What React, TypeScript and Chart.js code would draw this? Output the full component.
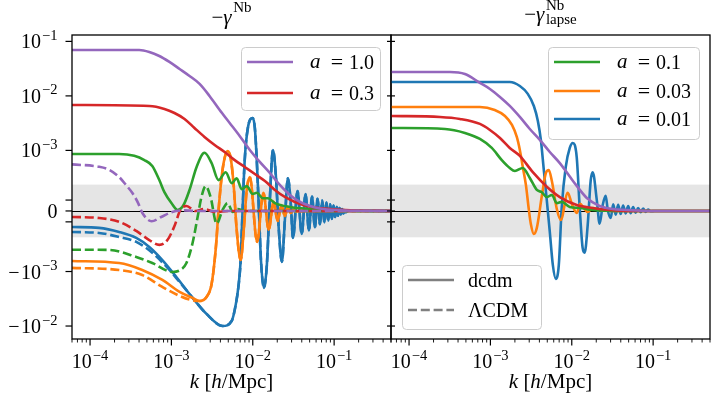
import React, { useEffect, useRef } from 'react';
import { Chart, registerables } from 'chart.js';

Chart.register(...registerables);

type Pt = [number, number];

// ---------------- axes ----------------
const K_LIMITS: [number, number] = [6e-5, 0.5];
const Y_LIMITS: [number, number] = [-0.0173, 0.131];
const LINTHRESH = 1e-3;
const X_TICK_VALUES = [1e-4, 1e-3, 1e-2, 1e-1];
const X_TICK_LABELS = ['10^{-4}', '10^{-3}', '10^{-2}', '10^{-1}'];
const Y_TICK_VALUES = [0.1, 0.01, 0.001, 0, -0.001, -0.01];
const Y_TICK_LABELS = ['10^{-1}', '10^{-2}', '10^{-3}', '0', '-10^{-3}', '-10^{-2}'];
const Y_EXTRA_TICKS = [1.8e-4, -1.8e-4];
const BAND = 4.35e-4;

// ---------------- legend texts ----------------
const LEFT_LEGEND_A = ['1.0', '0.3'];
const RIGHT_LEGEND_A = ['0.1', '0.03', '0.01'];
const STYLE_LEGEND = ['dcdm', 'ΛCDM'];

const COLORS = {
  purple: '#9467bd',
  red: '#d62728',
  green: '#2ca02c',
  orange: '#ff7f0e',
  blue: '#1f77b4',
  gray: '#808080',
};

// ---------------- left panel: -gamma^Nb, dcdm (solid) ----------------
const purpleDcdm: Pt[] = [
  [6e-5, 6.97e-2], [4.03e-4, 6.97e-2], [5.35e-4, 6.4e-2], [7.1e-4, 5.4e-2], [9.45e-4, 4.2e-2],
  [1.26e-3, 3.12e-2], [1.67e-3, 2.32e-2], [2.22e-3, 1.66e-2], [2.94e-3, 9.98e-3], [3.92e-3, 5.52e-3],
  [5.2e-3, 3.19e-3], [6.9e-3, 1.84e-3], [9.2e-3, 1.02e-3], [1.22e-2, 8.1e-4], [1.62e-2, 6.27e-4],
  [2.15e-2, 4.29e-4], [2.86e-2, 2.64e-4], [3.8e-2, 1.49e-4], [5.06e-2, 8.3e-5], [6.7e-2, 4.1e-5],
  [0.119, 1.2e-5], [0.21, 3e-6], [0.5, 0],
];
const redDcdm: Pt[] = [
  [6e-5, 6.82e-3], [5.35e-4, 6.54e-3], [8.2e-4, 5.77e-3], [1.09e-3, 4.86e-3], [1.45e-3, 3.78e-3],
  [1.92e-3, 2.58e-3], [2.55e-3, 1.77e-3], [3.4e-3, 1.26e-3], [4.51e-3, 9.74e-4], [6.0e-3, 8.4e-4],
  [7.96e-3, 7.26e-4], [1.06e-2, 6.1e-4], [1.41e-2, 4.95e-4], [1.87e-2, 3.47e-4], [2.48e-2, 2.31e-4],
  [3.3e-2, 1.49e-4], [4.38e-2, 9.1e-5], [5.82e-2, 5.8e-5], [8.9e-2, 3.3e-5], [0.158, 1.2e-5], [0.5, 0],
];
const greenDcdm: Pt[] = [
  [6e-5, 9.4e-4], [2.28e-4, 9.4e-4], [3.49e-4, 9.1e-4], [4.65e-4, 8.4e-4], [5.82e-4, 7.43e-4],
  [7.1e-4, 5.1e-4], [8.2e-4, 3.1e-4], [1.0e-3, 1.3e-4], [1.19e-3, 1.7e-5], [1.41e-3, 9.9e-5],
  [1.67e-3, 3.47e-4], [2.04e-3, 7.26e-4], [2.55e-3, 9.6e-4], [3.12e-3, 7.9e-4], [3.8e-3, 5.1e-4],
  [4.65e-3, 6.4e-4], [5.5e-3, 4.6e-4], [6.34e-3, 5.4e-4], [7.3e-3, 3.6e-4], [8.43e-3, 4.1e-4],
  [1.0e-2, 2.8e-4], [1.12e-2, 3.0e-4], [1.33e-2, 2.1e-4], [1.54e-2, 2.1e-4], [1.87e-2, 1.3e-4],
  [2.86e-2, 6.6e-5], [5.06e-2, 3.3e-5], [0.119, 8e-6], [0.5, 0],
];
const orangeDcdm: Pt[] = [
  [6e-5, -8.26e-4], [2.28e-4, -8.6e-4], [4.38e-4, -9.74e-4], [7.74e-4, -1.43e-3], [1.26e-3, -2.37e-3],
  [1.82e-3, -3.06e-3], [2.22e-3, -3.47e-3], [2.7e-3, -2.93e-3], [3.12e-3, -1.69e-3], [3.5e-3, -6.4e-4],
  [3.8e-3, 1.7e-5], [4.14e-3, 5.6e-4], [4.51e-3, 8.75e-4], [4.91e-3, 9.9e-4], [5.35e-3, 8.75e-4],
  [5.82e-3, 4.3e-4], [6.34e-3, -3.1e-4], [7.1e-3, -8.1e-4], [7.75e-3, -3.1e-4], [8.43e-3, 3.47e-4],
  [9.2e-3, 5.6e-4], [1.13e-2, -5.1e-4], [1.35e-2, 3.0e-4], [1.57e-2, -3.1e-4], [1.8e-2, 1.5e-4],
  [2.02e-2, -1.65e-4], [2.25e-2, 9.9e-5], [2.48e-2, -8.3e-5], [2.7e-2, 6.6e-5], [2.93e-2, -3.3e-5],
  [3.15e-2, 2e-5], [3.4e-2, -1e-5], [4e-2, 0], [0.5, 0],
];
const blueDcdm: Pt[] = [
  [6e-5, -2.64e-4], [1.29e-4, -2.8e-4], [2.28e-4, -3.47e-4], [3.7e-4, -4.46e-4], [5.35e-4, -5.94e-4],
  [7.74e-4, -8.1e-4], [1.15e-3, -1.26e-3], [1.67e-3, -2.58e-3], [2.7e-3, -6.0e-3], [4.26e-3, -9.98e-3],
  [5.5e-3, -8.1e-3], [6.17e-3, -4.09e-3], [6.7e-3, -1.76e-3], [7.1e-3, -8.1e-4], [7.5e-3, 1.7e-5],
  [7.96e-3, 8.4e-4], [8.7e-3, 2.58e-3], [1.0e-2, 3.94e-3], [1.06e-2, 2.58e-3], [1.12e-2, 8.4e-4],
  [1.19e-2, 1.7e-5], [1.26e-2, -8.1e-4], [1.37e-2, -2.0e-3], [1.49e-2, -8.9e-4], [1.62e-2, 1.8e-4],
  [1.77e-2, 1.02e-3], [1.92e-2, 5.9e-4], [2.09e-2, -3.1e-4], [2.28e-2, -8.4e-4], [2.48e-2, -1.5e-4],
  [2.7e-2, 5.4e-4], [2.94e-2, 1e-4], [3.12e-2, -4.46e-4], [3.55e-2, 3.3e-4], [4.0e-2, -3.8e-4],
  [4.45e-2, 2.8e-4], [4.9e-2, -3.2e-4], [5.35e-2, 2.4e-4], [5.8e-2, -2.7e-4], [6.25e-2, 2.0e-4],
  [6.7e-2, -2.2e-4], [7.15e-2, 1.7e-4], [7.6e-2, -1.9e-4], [8.05e-2, 1.4e-4], [8.5e-2, -1.6e-4],
  [8.95e-2, 1.1e-4], [9.4e-2, -1.3e-4], [9.85e-2, 9e-5], [0.103, -1.0e-4], [0.1075, 7e-5],
  [0.112, -8e-5], [0.1165, 5e-5], [0.121, -6e-5], [0.1255, 3e-5], [0.13, -4e-5], [0.1345, 1.5e-5],
  [0.139, -2e-5], [0.145, 0], [0.5, 0],
];

// ---------------- left panel: LambdaCDM (dashed) ----------------
const purpleLcdm: Pt[] = [
  [6e-5, 7.7e-4], [1.29e-4, 7.3e-4], [1.72e-4, 6.8e-4], [2.28e-4, 5.6e-4], [2.8e-4, 4.2e-4],
  [3.3e-4, 3.0e-4], [3.9e-4, 1.3e-4], [4.38e-4, -3e-5], [5.7e-4, -1.7e-4], [7.5e-4, -1.0e-4],
  [1.0e-3, -2e-5], [1.4e-3, 1e-5], [2e-3, 0], [0.5, 0],
];
const redLcdm: Pt[] = [
  [6e-5, -9.9e-5], [1.29e-4, -1.16e-4], [2.28e-4, -1.8e-4], [3.7e-4, -3.3e-4], [5.35e-4, -4.8e-4],
  [7.1e-4, -5.6e-4], [8.93e-4, -4.8e-4], [1.09e-3, -2.5e-4], [1.29e-3, 1.7e-5], [1.53e-3, 8.3e-5],
  [1.98e-3, 0], [2.55e-3, 3.3e-5], [3.4e-3, -1.7e-5], [5.2e-3, 0], [0.5, 0],
];
const greenLcdm: Pt[] = [
  [6e-5, -6.4e-4], [1.72e-4, -6.44e-4], [3.7e-4, -7.6e-4], [5.82e-4, -8.6e-4], [1.03e-3, -1.02e-3],
  [1.29e-3, -9.74e-4], [1.53e-3, -8.6e-4], [1.82e-3, -5.3e-4], [2.1e-3, -9.9e-5], [2.34e-3, 2.3e-4],
  [2.63e-3, 4.1e-4], [3.03e-3, 2.3e-4], [3.6e-3, -2.1e-4], [4.26e-3, 1.7e-5], [4.91e-3, 1.3e-4],
  [5.66e-3, -1.7e-5], [6.53e-3, 3.3e-5], [7.96e-3, 0], [0.5, 0],
];
const orangeLcdmHead: Pt[] = [
  [6e-5, -9.4e-4], [2.28e-4, -9.74e-4], [4.38e-4, -1.16e-3], [7.74e-4, -1.92e-3], [1.26e-3, -2.8e-3],
  [1.7e-3, -3.3e-3],
];
const blueLcdmHead: Pt[] = [
  [6e-5, -3.47e-4], [1.29e-4, -3.63e-4], [2.28e-4, -4.3e-4], [3.7e-4, -5.1e-4], [5.82e-4, -6.9e-4],
  [9.45e-4, -9.74e-4], [1.26e-3, -1.56e-3],
];
// after these k the LambdaCDM curve lies on top of the dcdm one
const ORANGE_MERGE_K = 2.1e-3;
const BLUE_MERGE_K = 1.6e-3;

// ---------------- right panel: -gamma^Nb_lapse, dcdm ----------------
const purpleLapse: Pt[] = [
  [6e-5, 2.75e-2], [3.18e-4, 2.75e-2], [4.86e-4, 2.52e-2], [7.43e-4, 1.73e-2], [9.86e-4, 1.34e-2],
  [1.31e-3, 9.55e-3], [1.73e-3, 6.54e-3], [2.3e-3, 4.11e-3], [3.05e-3, 2.47e-3], [4.05e-3, 1.56e-3],
  [5.37e-3, 9.74e-4], [7.13e-3, 7.9e-4], [1.03e-2, 5.0e-4], [1.53e-2, 2.15e-4], [2.2e-2, 8.3e-5],
  [3.18e-2, 3.3e-5], [4.73e-2, 1.7e-5], [9.06e-2, 0], [0.5, 0],
];
const redLapse: Pt[] = [
  [6e-5, 4.28e-3], [2.4e-4, 4.11e-3], [4.22e-4, 3.78e-3], [7.43e-4, 3.06e-3], [9.86e-4, 2.37e-3],
  [1.31e-3, 1.69e-3], [1.73e-3, 1.11e-3], [2.3e-3, 9.1e-4], [3.32e-3, 6.4e-4], [4.93e-3, 4.0e-4],
  [7.13e-3, 2.3e-4], [1.15e-2, 9.9e-5], [1.81e-2, 5e-5], [2.92e-2, 1.7e-5], [5.15e-2, 0], [0.5, 0],
];
const greenLapse: Pt[] = [
  [6e-5, 2.58e-3], [2.77e-4, 2.47e-3], [4.86e-4, 2.09e-3], [7.43e-4, 1.62e-3], [1.04e-3, 1.11e-3],
  [1.38e-3, 8.4e-4], [1.73e-3, 7.1e-4], [2.0e-3, 6.6e-4], [2.5e-3, 7.1e-4], [3.05e-3, 5.45e-4],
  [3.72e-3, 3.47e-4], [4.29e-3, 3.1e-4], [4.93e-3, 2.3e-4], [5.69e-3, 2.64e-4], [6.55e-3, 1.3e-4],
  [7.53e-3, 1.5e-4], [9.45e-3, 6.6e-5], [1.25e-2, 5e-5], [1.81e-2, 1.7e-5], [3.88e-2, 0], [0.5, 0],
];
const orangeLapse: Pt[] = [
  [6e-5, 6.27e-3], [7.43e-4, 6.27e-3], [1.13e-3, 5.52e-3], [1.51e-3, 4.28e-3], [1.84e-3, 2.93e-3],
  [2.11e-3, 1.77e-3], [2.3e-3, 1.02e-3], [2.5e-3, 7.26e-4], [2.73e-3, 4.3e-4], [2.97e-3, 1.7e-5],
  [3.14e-3, -2.15e-4], [3.42e-3, -3.8e-4], [3.72e-3, -2.8e-4], [4.29e-3, 2.5e-4], [4.8e-3, 6.27e-4],
  [5.22e-3, 6.77e-4], [5.69e-3, 4.95e-4], [6.55e-3, 3.3e-5], [7.33e-3, -1.5e-4], [8.93e-3, 3.0e-4],
  [1.0e-2, 1.2e-4], [1.15e-2, -3.3e-5], [1.27e-2, 1.2e-4], [1.4e-2, 5e-5], [1.57e-2, -1.7e-5],
  [1.81e-2, 5e-5], [2.2e-2, 1.7e-5], [3.88e-2, 0], [0.5, 0],
];
const blueLapse: Pt[] = [
  [6e-5, 1.8e-2], [1.73e-3, 1.8e-2], [2.3e-3, 1.52e-2], [2.88e-3, 1.09e-2], [3.42e-3, 6.54e-3],
  [3.83e-3, 3.47e-3], [4.17e-3, 1.56e-3], [4.53e-3, 6.8e-4], [4.93e-3, 1.8e-4], [5.37e-3, -3.47e-4],
  [5.85e-3, -8.9e-4], [6.37e-3, -1.37e-3], [6.93e-3, -8.9e-4], [7.53e-3, 6.6e-5], [8.43e-3, 7.26e-4],
  [9.45e-3, 1.11e-3], [1.03e-2, 1.37e-3], [1.15e-2, 8.9e-4], [1.25e-2, 6.6e-5], [1.36e-2, -6.1e-4],
  [1.44e-2, -6.9e-4], [1.57e-2, -2.3e-4], [1.71e-2, 5.1e-4], [1.81e-2, 6.4e-4], [2.03e-2, 1.8e-4],
  [2.2e-2, -2.1e-4], [2.4e-2, 9.9e-5], [2.61e-2, 2.5e-4], [2.77e-2, 1.7e-5], [3.01e-2, -1.16e-4],
  [3.23e-2, 1.1e-4], [3.47e-2, -6e-5], [3.72e-2, 1.0e-4], [3.99e-2, -5e-5], [4.28e-2, 9e-5],
  [4.6e-2, -4e-5], [4.93e-2, 8e-5], [5.29e-2, -3.5e-5], [5.68e-2, 6.5e-5], [6.1e-2, -3e-5],
  [6.54e-2, 5e-5], [7.02e-2, -2e-5], [7.53e-2, 4e-5], [8.08e-2, -1.5e-5], [8.67e-2, 2.5e-5],
  [9.31e-2, -5e-6], [0.104, 0], [0.5, 0],
];

// ---------------- helpers ----------------
const LINSCALE_ADJ = 1 / (1 - 1 / 10);
function symlog(v: number): number {
  const a = Math.abs(v);
  if (a <= LINTHRESH) return (v / LINTHRESH) * LINSCALE_ADJ;
  return Math.sign(v) * (LINSCALE_ADJ + Math.log10(a / LINTHRESH));
}

const FONT_FAMILY = '"Liberation Serif", "DejaVu Serif", serif';
function font(size: number, italic = false) {
  return `${italic ? 'italic ' : ''}${size}px ${FONT_FAMILY}`;
}

type Run = { t: string; size: number; italic?: boolean; dy?: number; dx?: number };

function runsWidth(ctx: CanvasRenderingContext2D, runs: Run[]) {
  let w = 0;
  for (const r of runs) {
    ctx.font = font(r.size, r.italic);
    w += ctx.measureText(r.t).width + (r.dx || 0);
  }
  return w;
}
function drawRuns(ctx: CanvasRenderingContext2D, runs: Run[], x: number, y: number, align: 'left' | 'center' | 'right') {
  const w = runsWidth(ctx, runs);
  let cx = align === 'left' ? x : align === 'center' ? x - w / 2 : x - w;
  ctx.textAlign = 'left';
  ctx.textBaseline = 'alphabetic';
  ctx.fillStyle = '#000';
  for (const r of runs) {
    ctx.font = font(r.size, r.italic);
    cx += r.dx || 0;
    ctx.fillText(r.t, cx, y + (r.dy || 0));
    cx += ctx.measureText(r.t).width;
  }
}
const TICK_FS = 20;
const TICK_SUP_FS = 14.5;
function powRuns(label: string): Run[] {
  if (label === '0') return [{ t: '0', size: TICK_FS }];
  const m = /^(-?)10\^\{(-?\d+)\}$/.exec(label);
  if (!m) return [{ t: label, size: TICK_FS }];
  const runs: Run[] = [];
  if (m[1]) runs.push({ t: '−', size: TICK_FS });
  runs.push({ t: '10', size: TICK_FS, dx: m[1] ? 1.5 : 0 });
  runs.push({ t: m[2].replace('-', '−'), size: TICK_SUP_FS, dy: -8.5, dx: 1 });
  return runs;
}
function seg(ctx: CanvasRenderingContext2D, x1: number, y1: number, x2: number, y2: number) {
  ctx.beginPath();
  ctx.moveTo(x1, y1);
  ctx.lineTo(x2, y2);
  ctx.stroke();
}
function roundRectPath(ctx: CanvasRenderingContext2D, x: number, y: number, w: number, h: number, r: number) {
  ctx.beginPath();
  ctx.moveTo(x + r, y);
  ctx.lineTo(x + w - r, y);
  ctx.arcTo(x + w, y, x + w, y + r, r);
  ctx.lineTo(x + w, y + h - r);
  ctx.arcTo(x + w, y + h, x + w - r, y + h, r);
  ctx.lineTo(x + r, y + h);
  ctx.arcTo(x, y + h, x, y + h - r, r);
  ctx.lineTo(x, y + r);
  ctx.arcTo(x, y, x + r, y, r);
  ctx.closePath();
}

const LINE_W = 2.6;
const DASH = [9, 3.8];

function ds(pts: Pt[], color: string, dashed: boolean) {
  return {
    data: pts.map(([k, v]) => ({ x: k, y: symlog(v) })),
    borderColor: color,
    backgroundColor: color,
    borderWidth: LINE_W,
    borderDash: dashed ? DASH : [],
    borderCapStyle: 'butt',
    borderJoinStyle: 'round',
    pointRadius: 0,
    fill: false,
    cubicInterpolationMode: 'monotone',
  };
}

type LegendRow = { color: string; dashed: boolean; math?: string; text?: string; dy: number };
type LegendBox = { x: number; y: number; w: number; h: number; rows: LegendRow[] };

type Panel = {
  datasets: () => any[];
  padding: { left: number; right: number; top: number; bottom: number };
  yLabels: boolean;
  leftTicksBoth: boolean;
  title: 'plain' | 'lapse';
  legends: LegendBox[];
};

const LEG_FS = 20;

function drawLegend(ctx: CanvasRenderingContext2D, left: number, top: number, L: LegendBox) {
  const x0 = left + L.x;
  const y0 = top + L.y;
  ctx.save();
  roundRectPath(ctx, x0 + 0.5, y0 + 0.5, L.w, L.h, 4);
  ctx.fillStyle = 'rgba(255,255,255,0.8)';
  ctx.fill();
  ctx.strokeStyle = '#cccccc';
  ctx.lineWidth = 1;
  ctx.stroke();
  for (const row of L.rows) {
    const yy = y0 + row.dy;
    ctx.strokeStyle = row.color;
    ctx.lineWidth = LINE_W;
    ctx.lineCap = 'butt';
    ctx.setLineDash(row.dashed ? DASH : []);
    seg(ctx, x0 + 6, yy, x0 + 52, yy);
    ctx.setLineDash([]);
    ctx.fillStyle = '#000';
    if (row.math !== undefined) {
      drawRuns(ctx, [{ t: 'a', size: LEG_FS + 1, italic: true }], x0 + 69, yy + 6, 'left');
      drawRuns(ctx, [{ t: '=', size: LEG_FS + 2 }], x0 + 96, yy + 6.5, 'center');
      drawRuns(ctx, [{ t: row.math, size: LEG_FS }], x0 + 108, yy + 6.5, 'left');
    } else if (row.text !== undefined) {
      drawRuns(ctx, [{ t: row.text, size: LEG_FS }], x0 + 66, yy + 6.5, 'left');
    }
  }
  ctx.restore();
}

function decorPlugin(panel: Panel) {
  return {
    id: 'decor',
    beforeDatasetsDraw(chart: any) {
      const { ctx, chartArea: a } = chart;
      const ys = chart.scales.y;
      ctx.save();
      const yb1 = ys.getPixelForValue(symlog(BAND));
      const yb2 = ys.getPixelForValue(symlog(-BAND));
      ctx.fillStyle = 'rgba(0,0,0,0.1)';
      ctx.fillRect(a.left, yb1, a.right - a.left, yb2 - yb1);
      const y0 = Math.round(ys.getPixelForValue(symlog(0))) + 0.5;
      ctx.strokeStyle = '#000';
      ctx.lineWidth = 1.2;
      seg(ctx, a.left, y0, a.right, y0);
      ctx.restore();
    },
    afterDraw(chart: any) {
      const { ctx, chartArea: a } = chart;
      const xs = chart.scales.x;
      const ys = chart.scales.y;
      ctx.save();
      // frame
      ctx.strokeStyle = '#000';
      ctx.lineWidth = 1.3;
      ctx.strokeRect(a.left, a.top, a.right - a.left, a.bottom - a.top);

      // x ticks
      for (let n = -5; n <= 0; n++) {
        for (let m = 1; m <= 9; m++) {
          const k = m * Math.pow(10, n);
          if (k < K_LIMITS[0] * 0.999 || k > K_LIMITS[1] * 1.001) continue;
          const px = xs.getPixelForValue(k);
          ctx.lineWidth = m === 1 ? 1.2 : 0.9;
          seg(ctx, px, a.bottom, px, a.bottom + (m === 1 ? 6.5 : 3.5));
        }
      }
      X_TICK_VALUES.forEach((k, i) => {
        drawRuns(ctx, powRuns(X_TICK_LABELS[i]), xs.getPixelForValue(k), a.bottom + 29, 'center');
      });

      // y ticks
      const yTicks = [...Y_TICK_VALUES, ...Y_EXTRA_TICKS];
      ctx.lineWidth = 1.2;
      for (const v of yTicks) {
        const py = ys.getPixelForValue(symlog(v));
        if (panel.leftTicksBoth) seg(ctx, a.left - 4, py, a.left + 4, py);
        else seg(ctx, a.left - 6.5, py, a.left, py);
      }
      if (panel.yLabels) {
        Y_TICK_VALUES.forEach((v, i) => {
          const py = ys.getPixelForValue(symlog(v));
          drawRuns(ctx, powRuns(Y_TICK_LABELS[i]), a.left - 14.5, py + 7, 'right');
        });
      }

      // x label
      const cx = (a.left + a.right) / 2;
      drawRuns(
        ctx,
        [
          { t: 'k', size: 21, italic: true },
          { t: ' [', size: 21 },
          { t: 'h', size: 21, italic: true },
          { t: '/Mpc]', size: 21 },
        ],
        cx,
        a.bottom + 49,
        'center'
      );

      // title
      if (panel.title === 'plain') {
        drawRuns(
          ctx,
          [
            { t: '−', size: 21 },
            { t: 'γ', size: 21, italic: true },
            { t: 'Nb', size: 15, dy: -12, dx: 1.5 },
          ],
          cx,
          24,
          'center'
        );
      } else {
        ctx.font = font(21);
        const wm = ctx.measureText('−').width;
        ctx.font = font(21, true);
        const wg = ctx.measureText('γ').width;
        ctx.font = font(15);
        const wnb = ctx.measureText('Nb').width;
        const wl = ctx.measureText('lapse').width;
        const total = wm + wg + 1.5 + Math.max(wnb, wl);
        let x = cx - total / 2;
        drawRuns(ctx, [{ t: '−', size: 21 }], x, 21, 'left');
        x += wm;
        drawRuns(ctx, [{ t: 'γ', size: 21, italic: true }], x, 21, 'left');
        x += wg + 1.5;
        drawRuns(ctx, [{ t: 'Nb', size: 15 }], x, 10, 'left');
        drawRuns(ctx, [{ t: 'lapse', size: 15 }], x, 24, 'left');
      }

      for (const L of panel.legends) drawLegend(ctx, a.left, a.top, L);
      ctx.restore();
    },
  };
}

function buildChart(canvas: HTMLCanvasElement, panel: Panel) {
  return new Chart(canvas, {
    type: 'line',
    data: { datasets: panel.datasets() },
    options: {
      animation: false,
      responsive: false,
      devicePixelRatio: 1,
      parsing: false,
      events: [],
      layout: { padding: panel.padding },
      scales: {
        x: { type: 'logarithmic', min: K_LIMITS[0], max: K_LIMITS[1], display: false },
        y: { type: 'linear', min: symlog(Y_LIMITS[0]), max: symlog(Y_LIMITS[1]), display: false },
      },
      plugins: {
        legend: { display: false },
        title: { display: false },
        tooltip: { enabled: false },
      },
    } as any,
    plugins: [decorPlugin(panel) as any],
  } as any);
}

const LEFT_PANEL: Panel = {
  datasets: () => [
    ds(purpleLcdm, COLORS.purple, true),
    ds(purpleDcdm, COLORS.purple, false),
    ds(redLcdm, COLORS.red, true),
    ds(redDcdm, COLORS.red, false),
    ds(greenLcdm, COLORS.green, true),
    ds(greenDcdm, COLORS.green, false),
    ds([...orangeLcdmHead, ...orangeDcdm.filter(([k]) => k >= ORANGE_MERGE_K)], COLORS.orange, true),
    ds(orangeDcdm, COLORS.orange, false),
    ds([...blueLcdmHead, ...blueDcdm.filter(([k]) => k >= BLUE_MERGE_K)], COLORS.blue, true),
    ds(blueDcdm, COLORS.blue, false),
  ],
  padding: { left: 72, right: 9, top: 35, bottom: 66 },
  yLabels: true,
  leftTicksBoth: false,
  title: 'plain',
  legends: [
    {
      x: 169, y: 12, w: 139, h: 63,
      rows: [
        { color: COLORS.purple, dashed: false, math: LEFT_LEGEND_A[0], dy: 15 },
        { color: COLORS.red, dashed: false, math: LEFT_LEGEND_A[1], dy: 46 },
      ],
    },
  ],
};

const RIGHT_PANEL: Panel = {
  datasets: () => [
    ds(purpleLapse, COLORS.purple, false),
    ds(redLapse, COLORS.red, false),
    ds(greenLapse, COLORS.green, false),
    ds(orangeLapse, COLORS.orange, false),
    ds(blueLapse, COLORS.blue, false),
  ],
  padding: { left: 9, right: 3, top: 35, bottom: 66 },
  yLabels: false,
  leftTicksBoth: true,
  title: 'lapse',
  legends: [
    {
      x: 157, y: 12, w: 151, h: 92,
      rows: [
        { color: COLORS.green, dashed: false, math: RIGHT_LEGEND_A[0], dy: 15 },
        { color: COLORS.orange, dashed: false, math: RIGHT_LEGEND_A[1], dy: 44 },
        { color: COLORS.blue, dashed: false, math: RIGHT_LEGEND_A[2], dy: 72 },
      ],
    },
    {
      x: 11, y: 230, w: 139, h: 64,
      rows: [
        { color: COLORS.gray, dashed: false, text: STYLE_LEGEND[0], dy: 15 },
        { color: COLORS.gray, dashed: true, text: STYLE_LEGEND[1], dy: 45 },
      ],
    },
  ],
};

export default function App() {
  const leftRef = useRef<HTMLCanvasElement>(null);
  const rightRef = useRef<HTMLCanvasElement>(null);
  useEffect(() => {
    if (!leftRef.current || !rightRef.current) return;
    const c1 = buildChart(leftRef.current, LEFT_PANEL);
    const c2 = buildChart(rightRef.current, RIGHT_PANEL);
    return () => {
      c1.destroy();
      c2.destroy();
    };
  }, []);
  return (
    <div style={{ position: 'fixed', left: 0, top: 0, width: 713, height: 405, background: '#fff', overflow: 'hidden' }}>
      <canvas ref={leftRef} width={400} height={405} style={{ position: 'absolute', left: 0, top: 0, width: 400, height: 405 }} />
      <canvas ref={rightRef} width={331} height={405} style={{ position: 'absolute', left: 382, top: 0, width: 331, height: 405 }} />
    </div>
  );
}
